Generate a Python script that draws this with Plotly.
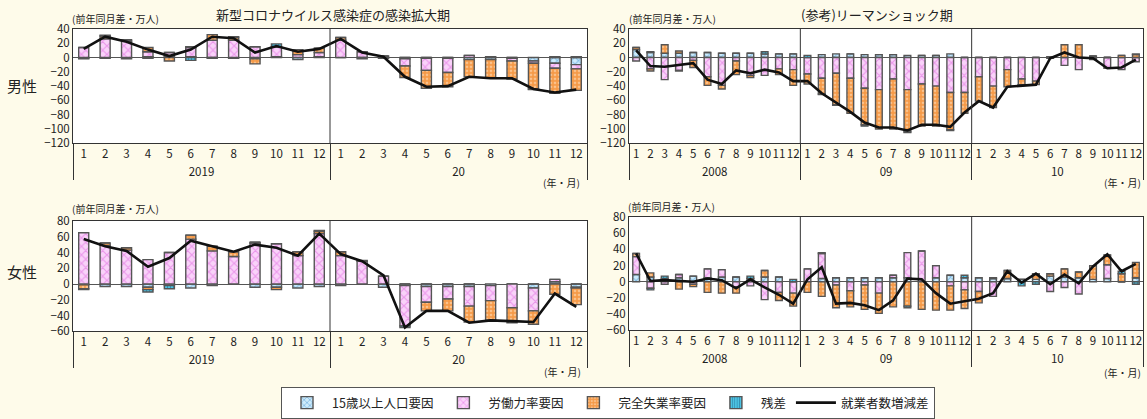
import plotly.graph_objects as go

# ---------------- data ----------------
months = ["1", "2", "3", "4", "5", "6", "7", "8", "9", "10", "11", "12"]
covid_years = ["2019", "20"]
lehman_years = ["2008", "09", "10"]

# Men, COVID period (2019-2020)
men_covid_pop = [-1, -1, -2, 1, 2, 1, 0, -1, -2, 1, -3, 1,
                 0, 0, 0, -2, -1, -1, -3, -3, -1, -5, -8, -10]
men_covid_lfpr = [14, 26, 23, 7, 5, 13, 24, 24, 15, 14, 4, 6,
                  24, 8, 2, -10, -17, -20, 3, 0, -4, -3, -7, -6]
men_covid_unemp = [0, 4, 0, 6, -5, 1, 8, 4, -7, 0, 7, 6,
                   4, -2, -1, -16, -25, -20, -24, -26, -25, -36, -35, -30]
men_covid_resid = [-1, 1, 2, -1, 0, -4, -1, 1, 0, 4, 0, 0,
                   0, 0, 0, 0, 0, 0, 0, 1, 0, -1, 1, 1]
men_covid_total = [12, 29, 22, 11, 2, 11, 29, 27, 7, 16, 8, 12,
                   26, 7, 1, -27, -41, -40, -27, -29, -29, -44, -49, -45]

# Men, Lehman shock period (2008-2010)
men_lehman_pop = [11, 7, 6, 6, 7, 7, 6, 6, 6, 5, 5, 5,
                  0, 4, 5, 5, 4, 4, 4, 3, 3, 3, 5, 0,
                  0, 0, 0, 0, 0, 1, 0, 0, 2, 0, 0, 0]
men_lehman_lfpr = [-5, -16, -31, -18, -4, -27, -39, -5, -25, -25, -16, -17,
                   -23, -29, -22, -29, -43, -45, -30, -45, -37, -40, -49, -49,
                   -27, -40, -17, -30, -33, -1, -11, -17, -2, -15, -17, -6]
men_lehman_unemp = [3, -3, 12, 3, -10, -12, -5, -19, -3, 0, -8, -22,
                    -14, -22, -44, -49, -51, -55, -70, -59, -59, -56, -52, -29,
                    -34, -30, -24, -8, -5, 0, 18, 18, 0, 0, 3, 4]
men_lehman_resid = [0, 1, 0, -1, 0, 0, 0, 0, 0, 3, 0, 0,
                    3, -1, -1, 0, -2, 0, 0, -1, 0, 0, -1, 0,
                    0, 0, 0, -1, 0, 0, 0, 0, -1, 0, 0, 1]
men_lehman_total = [10, -12, -13, -10, -8, -31, -37, -18, -22, -17, -21, -33,
                    -33, -50, -63, -76, -91, -98, -98, -102, -94, -94, -97, -77,
                    -61, -70, -41, -40, -38, -1, 7, 0, -1, -15, -14, -3]

# Women, COVID period (2019-2020)
women_covid_pop = [-1, -3, -3, -4, -2, -5, -2, 0, -4, -4, -5, -3,
                   -2, 0, -4, -2, -3, -3, -3, -2, 0, -5, 3, -4]
women_covid_lfpr = [65, 49, 43, 31, 40, 57, 42, 35, 52, 51, 36, 64,
                    36, 29, 10, -51, -20, -16, -25, -19, -30, -29, 3, -1]
women_covid_unemp = [-5, 3, 3, -3, 0, 5, 6, 6, 1, -3, 5, 3,
                     5, 0, 0, 0, -11, -15, -20, -25, -17, -17, -13, -21]
women_covid_resid = [-1, 0, 0, -3, -4, 0, 0, 0, 0, 0, 0, 1,
                     0, 1, 0, -2, 0, 0, 0, -1, -2, 0, 0, 0]
women_covid_total = [57, 48, 42, 22, 33, 55, 48, 41, 50, 46, 36, 64,
                     38, 29, 11, -55, -34, -34, -49, -46, -47, -48, -12, -29]

# Women, Lehman shock period (2008-2010)
women_lehman_pop = [9, 6, 4, 5, 7, 5, 6, 6, 4, 6, 6, 0,
                    0, 4, 5, 5, 5, 5, 5, 5, 0, 5, 8, 5,
                    5, 4, 4, 3, 3, 7, 6, 5, 3, 4, 0, 5]
women_lehman_lfpr = [22, -8, -3, 4, -3, 11, 9, -6, -5, -22, -13, -14,
                     16, 31, -4, -11, -4, -14, 3, 31, 38, 15, -5, -10,
                     -12, -18, 0, 0, 0, -12, -7, -15, 0, 17, 0, 0]
women_lehman_unemp = [4, 5, 0, -9, -3, -13, -14, -8, 0, 8, -10, -16,
                      -13, -18, -28, -20, -30, -25, -31, -30, -34, -35, -30, -23,
                      -14, 0, 10, 0, 7, 3, 10, 7, 17, 12, 10, 19]
women_lehman_resid = [0, -2, 3, 0, 0, 0, 0, 0, 3, 0, 0, 3,
                      0, 1, 0, 0, 0, 0, 0, -2, 0, 0, 0, 3,
                      0, 1, 0, -5, -3, 0, 0, 0, 0, 0, 3, -3]
women_lehman_total = [35, 1, 2, 1, 0, 4, 2, -8, 3, -7, -16, -27,
                      3, 18, -27, -26, -29, -35, -23, 4, 3, -14, -27, -24,
                      -21, -14, 13, -1, 10, -3, 9, -2, 19, 34, 13, 22]

series_names = ["15歳以上人口要因", "労働力率要因", "完全失業率要因", "残差", "就業者数増減差"]

# ---------------- styling ----------------
W, H = 1147, 419
FONT = "Noto Sans CJK JP"
BG = "#FEFBEA"
TXT = "#222222"

styles = [
    dict(bgcolor="#CDEBFA", fgcolor="#2F86CC", shape="x", size=5, solidity=0.35),
    dict(bgcolor="#F9D2F9", fgcolor="#DC5CDC", shape="x", size=6, solidity=0.35),
    dict(bgcolor="#F59A48", fgcolor="#FFE9D2", shape=".", size=4, solidity=0.35),
    dict(bgcolor="#4CC3E3", fgcolor="#1B5F86", shape="|", size=3, solidity=0.35),
]


def X(px):
    return px / W


def Y(py):
    return 1 - py / H


def cats(years):
    return [[y for y in years for _ in months], [m for _ in years for m in months]]


panels = [
    (1, covid_years, [men_covid_pop, men_covid_lfpr, men_covid_unemp, men_covid_resid], men_covid_total),
    (2, lehman_years, [men_lehman_pop, men_lehman_lfpr, men_lehman_unemp, men_lehman_resid], men_lehman_total),
    (3, covid_years, [women_covid_pop, women_covid_lfpr, women_covid_unemp, women_covid_resid], women_covid_total),
    (4, lehman_years, [women_lehman_pop, women_lehman_lfpr, women_lehman_unemp, women_lehman_resid], women_lehman_total),
]

fig = go.Figure()
shapes = []
for idx, years, comps, total in panels:
    xs = cats(years)
    xa = "x" if idx == 1 else f"x{idx}"
    ya = "y" if idx == 1 else f"y{idx}"
    for k, vals in enumerate(comps):
        fig.add_trace(go.Bar(
            x=xs, y=vals, name=series_names[k], xaxis=xa, yaxis=ya,
            width=0.47, showlegend=(idx == 1), legendrank=k + 1,
            marker=dict(color=styles[k]["bgcolor"],
                        pattern=styles[k],
                        line=dict(color="#555555", width=1.4)),
        ))
    fig.add_trace(go.Scatter(
        x=xs, y=total, name=series_names[4], xaxis=xa, yaxis=ya, mode="lines",
        line=dict(color="#111111", width=2.6), showlegend=(idx == 1), legendrank=5,
    ))
    # year boundary lines inside the plot area
    n = len(years)
    for b in range(1, n):
        shapes.append(dict(type="line", xref=f"{xa} domain", yref=f"{ya} domain",
                           x0=b / n, x1=b / n, y0=0, y1=1,
                           line=dict(color="#333333", width=1)))

xdom_left = [X(73), X(587)]
xdom_right = [X(629), X(1143)]
ydom = {1: [Y(144), Y(29)], 2: [Y(144), Y(29)], 3: [Y(333), Y(222)], 4: [Y(332), Y(218)]}

axis_common = dict(showline=True, mirror=True, linecolor="#333333", linewidth=1,
                   showgrid=False, ticks="", automargin=False,
                   tickfont=dict(family=FONT, size=11.5, color=TXT))

layout = dict(
    width=W, height=H, margin=dict(l=0, r=0, t=0, b=0),
    paper_bgcolor=BG, plot_bgcolor="#FFFFFF",
    barmode="relative", bargap=0.5,
    font=dict(family=FONT, color=TXT),
    shapes=shapes,
    legend=dict(orientation="h", x=X(608), xanchor="center", y=Y(389), yanchor="top",
                bgcolor="#FFFFFF", bordercolor="#555555", borderwidth=1,
                font=dict(family=FONT, size=12.5, color=TXT), traceorder="normal",
                itemwidth=40),
)
for idx in range(1, 5):
    key = "" if idx == 1 else str(idx)
    xd = xdom_left if idx in (1, 3) else xdom_right
    layout[f"xaxis{key}"] = dict(axis_common, domain=xd, type="multicategory",
                                 anchor=f"y{key}", showdividers=True,
                                 dividercolor="#333333", dividerwidth=1, tickangle=0)
    if idx <= 2:
        yr = dict(range=[-120, 40], dtick=20)
    else:
        yr = dict(range=[-60, 80], dtick=20)
    layout[f"yaxis{key}"] = dict(axis_common, domain=ydom[idx], anchor=f"x{key}",
                                 zeroline=True, zerolinecolor="#555555", zerolinewidth=1,
                                 **yr)

ann = []


def add_text(text, px, py, size, xanchor="center"):
    ann.append(dict(text=text, x=X(px), y=Y(py), xref="paper", yref="paper",
                    showarrow=False, xanchor=xanchor, yanchor="middle",
                    font=dict(family=FONT, size=size, color=TXT)))


add_text("新型コロナウイルス感染症の感染拡大期", 333, 15, 13)
add_text("(参考)リーマンショック期", 877, 15, 13)
add_text("(前年同月差・万人)", 70, 19, 10, "left")
add_text("(前年同月差・万人)", 627, 19, 10, "left")
add_text("(前年同月差・万人)", 70, 209, 10, "left")
add_text("(前年同月差・万人)", 626, 207, 10, "left")
add_text("男性", 22, 86, 15)
add_text("女性", 22, 273, 15)
add_text("(年・月)", 582, 183, 10, "right")
add_text("(年・月)", 1143, 183, 10, "right")
add_text("(年・月)", 583, 373, 10, "right")
add_text("(年・月)", 1143, 374, 10, "right")
layout["annotations"] = ann

fig.update_layout(**layout)
fig.write_html("out.html", config={"displayModeBar": False},
               post_script="document.body.style.margin='0px';")
